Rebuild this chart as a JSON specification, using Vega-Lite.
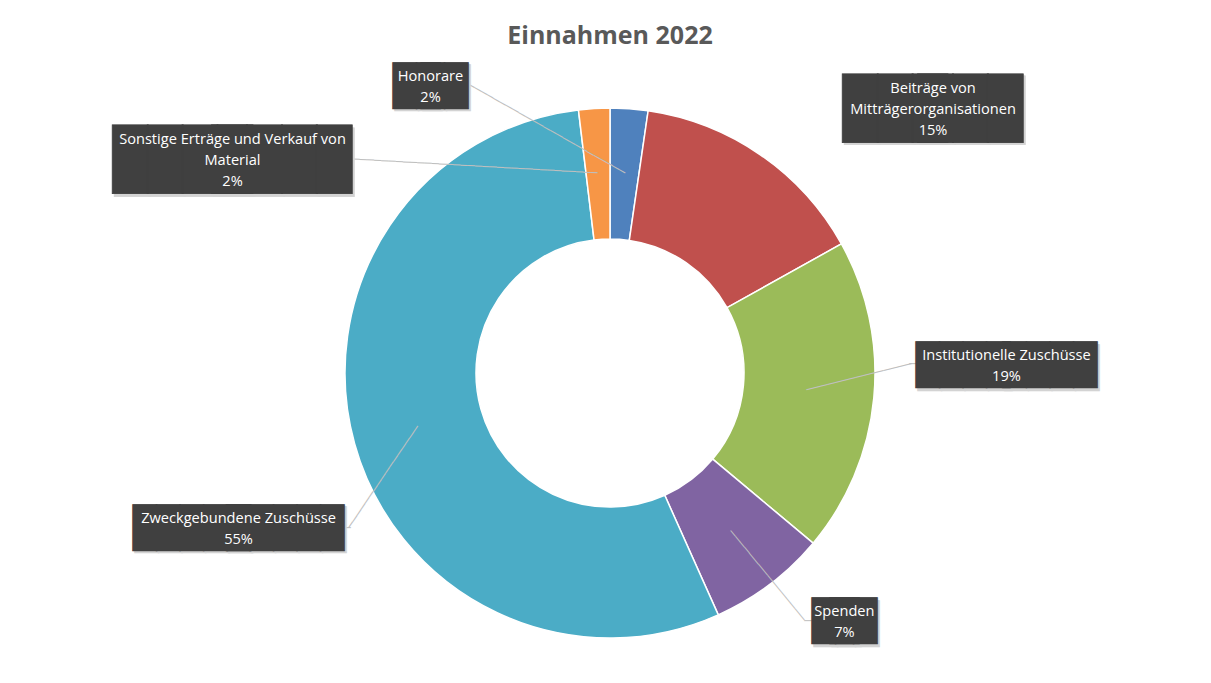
{
  "$schema": "https://vega.github.io/schema/vega-lite/v6.json",
  "autosize": "none",
  "width": 1202,
  "height": 620,
  "padding": {"top": 63, "left": 9, "right": 0, "bottom": 0},
  "background": "white",
  "title": {"text": "Einnahmen 2022", "font": "Open Sans", "fontSize": 25, "fontWeight": "bold", "color": "#595959", "offset": 14, "anchor": "middle", "frame": "group"},
  "config": {"view": {"stroke": null}},
  "data": {"values": [
    {"cat": "Honorare", "value": 2.3, "order": 1, "label": "Honorare\n2%"},
    {"cat": "Beiträge von Mitträgerorganisationen", "value": 14.6, "order": 2, "label": "Beiträge von\nMitträgerorganisationen\n15%"},
    {"cat": "Institutionelle Zuschüsse", "value": 19.2, "order": 3, "label": "Institutionelle Zuschüsse\n19%"},
    {"cat": "Spenden", "value": 7.2, "order": 4, "label": "Spenden\n7%"},
    {"cat": "Zweckgebundene Zuschüsse", "value": 54.8, "order": 5, "label": "Zweckgebundene Zuschüsse\n55%"},
    {"cat": "Sonstige Erträge und Verkauf von Material", "value": 1.9, "order": 6, "label": "Sonstige Erträge und Verkauf von\nMaterial\n2%"}
  ]},
  "layer": [
    {
      "mark": {"type": "arc", "outerRadius": 265, "innerRadius": 134, "stroke": "white", "strokeWidth": 1.5},
      "encoding": {
        "theta": {"field": "value", "type": "quantitative", "stack": true},
        "order": {"field": "order", "type": "quantitative"},
        "color": {"field": "cat", "type": "nominal", "legend": null,
          "scale": {"domain": ["Honorare", "Beiträge von Mitträgerorganisationen", "Institutionelle Zuschüsse", "Spenden", "Zweckgebundene Zuschüsse", "Sonstige Erträge und Verkauf von Material"],
                    "range": ["#4F81BD", "#C0504D", "#9BBB59", "#8064A2", "#4BACC6", "#F79646"]}}
      }
    },
    {
      "transform": [{"stack": "value", "groupby": [], "sort": [{"field": "order", "order": "ascending"}], "as": ["v0", "v1"]}, {"filter": "datum.order === 1"}],
      "encoding": {"theta": {"field": "v0", "type": "quantitative", "stack": null}},
      "layer": [
        {"mark": {"type": "text", "radius": 330, "font": "DejaVu Sans Mono", "fontSize": 12, "fill": "#BFBFBF", "align": "center", "baseline": "middle", "angle": 29.55, "dx": -13.1, "dy": 105.7},
         "encoding": {"text": {"value": "─────────────────────────"}}},
        {"mark": {"type": "text", "radius": 330, "font": "DejaVu Sans Mono", "fontSize": 39.1, "fill": "#D3D3D3", "stroke": "#D3D3D3", "strokeWidth": 0.8, "opacity": 0.999, "align": "left", "baseline": "alphabetic", "dx": -215, "dy": 58},
         "encoding": {"text": {"value": "██"}}},
        {"mark": {"type": "text", "radius": 330, "font": "DejaVu Sans Mono", "fontSize": 39.1, "fill": "#D3D3D3", "stroke": "#D3D3D3", "strokeWidth": 0.8, "opacity": 0.999, "align": "right", "baseline": "alphabetic", "dx": -140, "dy": 58},
         "encoding": {"text": {"value": "██"}}},
        {"mark": {"type": "text", "radius": 330, "font": "DejaVu Sans Mono", "fontSize": 39.1, "fill": "#404040", "stroke": "#404040", "strokeWidth": 0.8, "opacity": 0.999, "align": "left", "baseline": "alphabetic", "dx": -217, "dy": 55.5},
         "encoding": {"text": {"value": "██"}}},
        {"mark": {"type": "text", "radius": 330, "font": "DejaVu Sans Mono", "fontSize": 39.1, "fill": "#404040", "stroke": "#404040", "strokeWidth": 0.8, "opacity": 0.999, "align": "right", "baseline": "alphabetic", "dx": -142, "dy": 55.5},
         "encoding": {"text": {"value": "██"}}},
        {"mark": {"type": "text", "radius": 330, "dx": -179.5, "dy": 33.5, "font": "Open Sans", "fontSize": 14.6, "lineBreak": "\n", "lineHeight": 21, "align": "center", "baseline": "middle", "fill": "white"},
         "encoding": {"text": {"field": "label"}}}
      ]
    },
    {
      "transform": [{"stack": "value", "groupby": [], "sort": [{"field": "order", "order": "ascending"}], "as": ["v0", "v1"]}, {"filter": "datum.order === 2"}],
      "encoding": {"theta": {"field": "v0", "type": "quantitative", "stack": null}},
      "layer": [
        {"mark": {"type": "text", "radius": 330, "font": "DejaVu Sans Mono", "fontSize": 58, "fill": "#D3D3D3", "stroke": "#D3D3D3", "strokeWidth": 0.8, "opacity": 0.999, "align": "left", "baseline": "alphabetic", "dx": 187.5, "dy": 83.7},
         "encoding": {"text": {"value": "███"}}},
        {"mark": {"type": "text", "radius": 330, "font": "DejaVu Sans Mono", "fontSize": 58, "fill": "#D3D3D3", "stroke": "#D3D3D3", "strokeWidth": 0.8, "opacity": 0.999, "align": "right", "baseline": "alphabetic", "dx": 367.5, "dy": 83.7},
         "encoding": {"text": {"value": "███"}}},
        {"mark": {"type": "text", "radius": 330, "font": "DejaVu Sans Mono", "fontSize": 58, "fill": "#404040", "stroke": "#404040", "strokeWidth": 0.8, "opacity": 0.999, "align": "left", "baseline": "alphabetic", "dx": 185.5, "dy": 81.2},
         "encoding": {"text": {"value": "███"}}},
        {"mark": {"type": "text", "radius": 330, "font": "DejaVu Sans Mono", "fontSize": 58, "fill": "#404040", "stroke": "#404040", "strokeWidth": 0.8, "opacity": 0.999, "align": "right", "baseline": "alphabetic", "dx": 365.5, "dy": 81.2},
         "encoding": {"text": {"value": "███"}}},
        {"mark": {"type": "text", "radius": 330, "dx": 275.5, "dy": 42.1, "font": "Open Sans", "fontSize": 14.6, "lineBreak": "\n", "lineHeight": 21, "align": "center", "baseline": "middle", "fill": "white"},
         "encoding": {"text": {"field": "label"}}}
      ]
    },
    {
      "transform": [{"stack": "value", "groupby": [], "sort": [{"field": "order", "order": "ascending"}], "as": ["v0", "v1"]}, {"filter": "datum.order === 3"}],
      "encoding": {"theta": {"field": "v0", "type": "quantitative", "stack": null}},
      "layer": [
        {"mark": {"type": "text", "radius": 330, "font": "DejaVu Sans Mono", "fontSize": 12, "fill": "#BFBFBF", "align": "center", "baseline": "middle", "angle": 346.03, "dx": -77.6, "dy": 150.2},
         "encoding": {"text": {"value": "───────────────"}}},
        {"mark": {"type": "text", "radius": 330, "font": "DejaVu Sans Mono", "fontSize": 12, "fill": "#BFBFBF", "align": "center", "baseline": "middle", "dx": 14.8, "dy": 151.8},
         "encoding": {"text": {"value": "─"}}},
        {"mark": {"type": "text", "radius": 330, "font": "DejaVu Sans Mono", "fontSize": 39.1, "fill": "#D3D3D3", "stroke": "#D3D3D3", "strokeWidth": 0.8, "opacity": 0.999, "align": "left", "baseline": "alphabetic", "dx": 19.8, "dy": 168.3},
         "encoding": {"text": {"value": "████"}}},
        {"mark": {"type": "text", "radius": 330, "font": "DejaVu Sans Mono", "fontSize": 39.1, "fill": "#D3D3D3", "stroke": "#D3D3D3", "strokeWidth": 0.8, "opacity": 0.999, "align": "right", "baseline": "alphabetic", "dx": 200.8, "dy": 168.3},
         "encoding": {"text": {"value": "████"}}},
        {"mark": {"type": "text", "radius": 330, "font": "DejaVu Sans Mono", "fontSize": 39.1, "fill": "#404040", "stroke": "#404040", "strokeWidth": 0.8, "opacity": 0.999, "align": "left", "baseline": "alphabetic", "dx": 17.8, "dy": 165.8},
         "encoding": {"text": {"value": "████"}}},
        {"mark": {"type": "text", "radius": 330, "font": "DejaVu Sans Mono", "fontSize": 39.1, "fill": "#404040", "stroke": "#404040", "strokeWidth": 0.8, "opacity": 0.999, "align": "right", "baseline": "alphabetic", "dx": 198.8, "dy": 165.8},
         "encoding": {"text": {"value": "████"}}},
        {"mark": {"type": "text", "radius": 330, "dx": 108.3, "dy": 143.8, "font": "Open Sans", "fontSize": 14.6, "lineBreak": "\n", "lineHeight": 21, "align": "center", "baseline": "middle", "fill": "white"},
         "encoding": {"text": {"field": "label"}}}
      ]
    },
    {
      "transform": [{"stack": "value", "groupby": [], "sort": [{"field": "order", "order": "ascending"}], "as": ["v0", "v1"]}, {"filter": "datum.order === 4"}],
      "encoding": {"theta": {"field": "v0", "type": "quantitative", "stack": null}},
      "layer": [
        {"mark": {"type": "text", "radius": 330, "font": "DejaVu Sans Mono", "fontSize": 12, "fill": "#BFBFBF", "align": "center", "baseline": "middle", "angle": 50.5, "dx": -68.1, "dy": 67.6},
         "encoding": {"text": {"value": "────────────────"}}},
        {"mark": {"type": "text", "radius": 330, "font": "DejaVu Sans Mono", "fontSize": 12, "fill": "#BFBFBF", "align": "center", "baseline": "middle", "dx": -55, "dy": 35.6},
         "encoding": {"text": {"value": "─"}}},
        {"mark": {"type": "text", "radius": 330, "font": "DejaVu Sans Mono", "fontSize": 39.1, "fill": "#D3D3D3", "stroke": "#D3D3D3", "strokeWidth": 0.8, "opacity": 0.999, "align": "left", "baseline": "alphabetic", "dx": -49.0, "dy": 51.6},
         "encoding": {"text": {"value": "██"}}},
        {"mark": {"type": "text", "radius": 330, "font": "DejaVu Sans Mono", "fontSize": 39.1, "fill": "#D3D3D3", "stroke": "#D3D3D3", "strokeWidth": 0.8, "opacity": 0.999, "align": "right", "baseline": "alphabetic", "dx": 16.0, "dy": 51.6},
         "encoding": {"text": {"value": "██"}}},
        {"mark": {"type": "text", "radius": 330, "font": "DejaVu Sans Mono", "fontSize": 39.1, "fill": "#404040", "stroke": "#404040", "strokeWidth": 0.8, "opacity": 0.999, "align": "left", "baseline": "alphabetic", "dx": -51.0, "dy": 49.1},
         "encoding": {"text": {"value": "██"}}},
        {"mark": {"type": "text", "radius": 330, "font": "DejaVu Sans Mono", "fontSize": 39.1, "fill": "#404040", "stroke": "#404040", "strokeWidth": 0.8, "opacity": 0.999, "align": "right", "baseline": "alphabetic", "dx": 14.0, "dy": 49.1},
         "encoding": {"text": {"value": "██"}}},
        {"mark": {"type": "text", "radius": 330, "dx": -18.5, "dy": 27.1, "font": "Open Sans", "fontSize": 14.6, "lineBreak": "\n", "lineHeight": 21, "align": "center", "baseline": "middle", "fill": "white"},
         "encoding": {"text": {"field": "label"}}}
      ]
    },
    {
      "transform": [{"stack": "value", "groupby": [], "sort": [{"field": "order", "order": "ascending"}], "as": ["v0", "v1"]}, {"filter": "datum.order === 5"}],
      "encoding": {"theta": {"field": "v0", "type": "quantitative", "stack": null}},
      "layer": [
        {"mark": {"type": "text", "radius": 330, "font": "DejaVu Sans Mono", "fontSize": 12, "fill": "#BFBFBF", "align": "center", "baseline": "middle", "angle": 304.1, "dx": -39.3, "dy": -410.1},
         "encoding": {"text": {"value": "─────────────────"}}},
        {"mark": {"type": "text", "radius": 330, "font": "DejaVu Sans Mono", "fontSize": 12, "fill": "#BFBFBF", "align": "center", "baseline": "middle", "dx": -397.8, "dy": -146.2},
         "encoding": {"text": {"value": "─"}}},
        {"mark": {"type": "text", "radius": 330, "font": "DejaVu Sans Mono", "fontSize": 39.1, "fill": "#D3D3D3", "stroke": "#D3D3D3", "strokeWidth": 0.8, "opacity": 0.999, "align": "left", "baseline": "alphabetic", "dx": -609.8, "dy": -130.7},
         "encoding": {"text": {"value": "█████"}}},
        {"mark": {"type": "text", "radius": 330, "font": "DejaVu Sans Mono", "fontSize": 39.1, "fill": "#D3D3D3", "stroke": "#D3D3D3", "strokeWidth": 0.8, "opacity": 0.999, "align": "right", "baseline": "alphabetic", "dx": -398.8, "dy": -130.7},
         "encoding": {"text": {"value": "█████"}}},
        {"mark": {"type": "text", "radius": 330, "font": "DejaVu Sans Mono", "fontSize": 39.1, "fill": "#404040", "stroke": "#404040", "strokeWidth": 0.8, "opacity": 0.999, "align": "left", "baseline": "alphabetic", "dx": -611.8, "dy": -133.2},
         "encoding": {"text": {"value": "█████"}}},
        {"mark": {"type": "text", "radius": 330, "font": "DejaVu Sans Mono", "fontSize": 39.1, "fill": "#404040", "stroke": "#404040", "strokeWidth": 0.8, "opacity": 0.999, "align": "right", "baseline": "alphabetic", "dx": -400.8, "dy": -133.2},
         "encoding": {"text": {"value": "█████"}}},
        {"mark": {"type": "text", "radius": 330, "dx": -506.3, "dy": -155.2, "font": "Open Sans", "fontSize": 14.6, "lineBreak": "\n", "lineHeight": 21, "align": "center", "baseline": "middle", "fill": "white"},
         "encoding": {"text": {"field": "label"}}}
      ]
    },
    {
      "transform": [{"stack": "value", "groupby": [], "sort": [{"field": "order", "order": "ascending"}], "as": ["v0", "v1"]}, {"filter": "datum.order === 6"}],
      "encoding": {"theta": {"field": "v0", "type": "quantitative", "stack": null}},
      "layer": [
        {"mark": {"type": "text", "radius": 330, "font": "DejaVu Sans Mono", "fontSize": 12, "fill": "#BFBFBF", "align": "center", "baseline": "middle", "angle": 3.26, "dx": -88.7, "dy": 125.9},
         "encoding": {"text": {"value": "──────────────────────────────────"}}},
        {"mark": {"type": "text", "radius": 330, "font": "DejaVu Sans Mono", "fontSize": 58, "fill": "#D3D3D3", "stroke": "#D3D3D3", "strokeWidth": 0.8, "opacity": 0.999, "align": "left", "baseline": "alphabetic", "dx": -455.7, "dy": 136.2},
         "encoding": {"text": {"value": "████"}}},
        {"mark": {"type": "text", "radius": 330, "font": "DejaVu Sans Mono", "fontSize": 58, "fill": "#D3D3D3", "stroke": "#D3D3D3", "strokeWidth": 0.8, "opacity": 0.999, "align": "right", "baseline": "alphabetic", "dx": -216.7, "dy": 136.2},
         "encoding": {"text": {"value": "████"}}},
        {"mark": {"type": "text", "radius": 330, "font": "DejaVu Sans Mono", "fontSize": 58, "fill": "#404040", "stroke": "#404040", "strokeWidth": 0.8, "opacity": 0.999, "align": "left", "baseline": "alphabetic", "dx": -457.7, "dy": 133.7},
         "encoding": {"text": {"value": "████"}}},
        {"mark": {"type": "text", "radius": 330, "font": "DejaVu Sans Mono", "fontSize": 58, "fill": "#404040", "stroke": "#404040", "strokeWidth": 0.8, "opacity": 0.999, "align": "right", "baseline": "alphabetic", "dx": -218.7, "dy": 133.7},
         "encoding": {"text": {"value": "████"}}},
        {"mark": {"type": "text", "radius": 330, "dx": -338.2, "dy": 94.6, "font": "Open Sans", "fontSize": 14.6, "lineBreak": "\n", "lineHeight": 21, "align": "center", "baseline": "middle", "fill": "white"},
         "encoding": {"text": {"field": "label"}}}
      ]
    }
  ]
}
